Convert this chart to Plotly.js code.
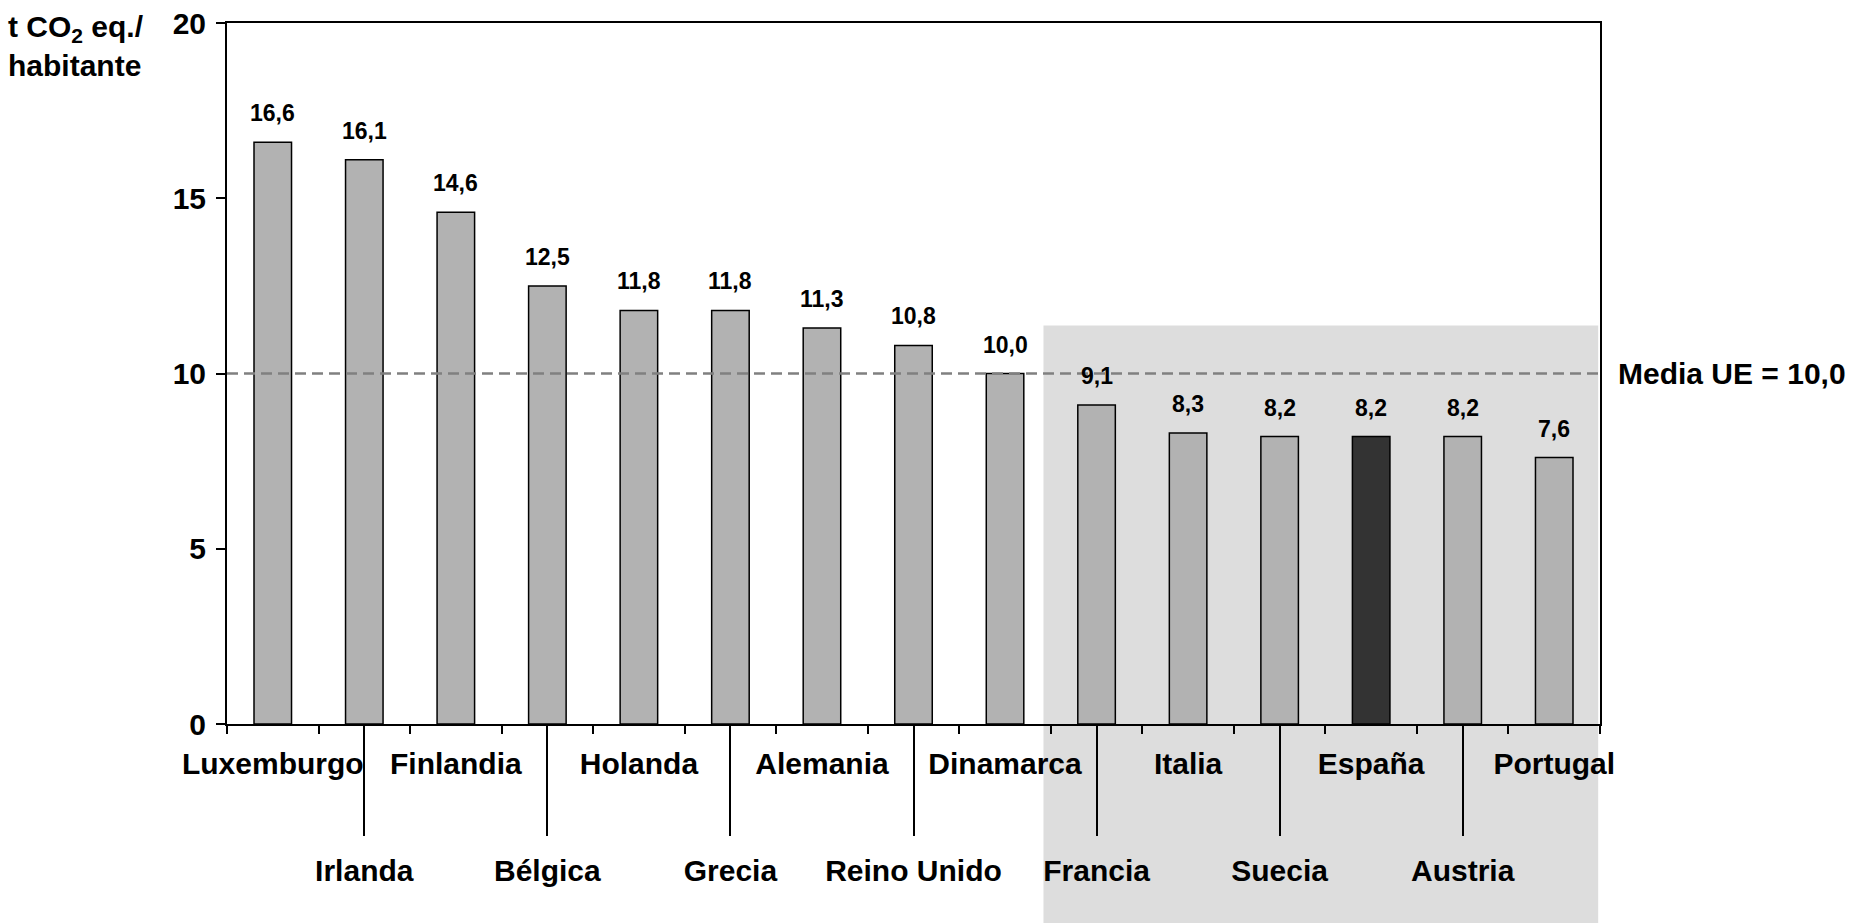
<!DOCTYPE html>
<html lang="es">
<head>
<meta charset="utf-8">
<script src="https://cdn.plot.ly/plotly-3.0.1.min.js"></script>
<style>
  html, body { margin: 0; padding: 0; background: #ffffff; }
  #chart { width: 1852px; height: 923px; }
</style>
</head>
<body>
<div id="chart"></div>
<script>
// Emisiones de GEI por habitante en la UE-15
const countries = ['Luxemburgo', 'Irlanda', 'Finlandia', 'Bélgica', 'Holanda', 'Grecia', 'Alemania',
  'Reino Unido', 'Dinamarca', 'Francia', 'Italia', 'Suecia', 'España', 'Austria', 'Portugal'];
const values = [16.6, 16.1, 14.6, 12.5, 11.8, 11.8, 11.3, 10.8, 10.0, 9.1, 8.3, 8.2, 8.2, 8.2, 7.6];
const euAverage = 10.0;
const highlighted = 'España';
const yTickValues = [0, 5, 10, 15, 20];
const yAxisTitle = 't CO<sub>2</sub> eq./<br>habitante';
const averageLabel = 'Media UE = ';

const FONT = '"Liberation Sans", Arial, Helvetica, sans-serif';
const fmt = v => v.toFixed(1).replace('.', ',');

// Upper row of category labels on the main axis, lower row on a second axis with long ticks
const upperText = countries.map((c, i) => (i % 2 === 0 ? c : ''));
const lowerIdx = countries.map((c, i) => i).filter(i => i % 2 === 1);
const lowerText = lowerIdx.map(i => countries[i]);

const bars = {
  type: 'bar',
  x: countries,
  y: values,
  marker: {
    color: countries.map(c => (c === highlighted ? '#333333' : '#b2b2b2')),
    line: { color: '#000000', width: 1.5 }
  },
  hoverinfo: 'x+y',
  showlegend: false
};

// carrier trace so the second (lower-row) category axis gets drawn
const lowerRow = {
  type: 'scatter',
  mode: 'none',
  x: lowerIdx,
  y: lowerIdx.map(i => values[i]),
  xaxis: 'x2',
  yaxis: 'y',
  hoverinfo: 'skip',
  showlegend: false
};

const valueLabels = countries.map((c, i) => ({
  x: c, y: values[i], xref: 'x', yref: 'y',
  text: fmt(values[i]),
  showarrow: false, yanchor: 'middle', yshift: 29,
  font: { family: FONT, size: 23, color: '#000000', weight: 'bold' }
}));

const layout = {
  width: 1852,
  height: 923,
  margin: { l: 227, r: 252, t: 23, b: 199, pad: 0 },
  paper_bgcolor: '#ffffff',
  plot_bgcolor: 'rgba(0,0,0,0)',
  font: { family: FONT, size: 30, color: '#000000', weight: 'bold' },
  separators: ',.',
  bargap: 0.59,
  showlegend: false,
  xaxis: {
    type: 'category',
    categoryorder: 'array',
    categoryarray: countries,
    range: [-0.5, countries.length - 0.5],
    tickmode: 'array',
    tickvals: countries,
    ticktext: upperText,
    tickson: 'boundaries',
    tickangle: 0,
    ticks: 'outside', ticklen: 8, tickwidth: 2, tickcolor: '#000000',
    ticklabelstandoff: 12,
    showline: true, linewidth: 2, linecolor: '#000000', mirror: true,
    showgrid: false, zeroline: false,
    tickfont: { family: FONT, size: 30, color: '#000000', weight: 'bold' },
    fixedrange: true
  },
  xaxis2: {
    type: 'linear',
    overlaying: 'x',
    anchor: 'y',
    side: 'bottom',
    range: [-0.5, countries.length - 0.5],
    tickmode: 'array',
    tickvals: lowerIdx,
    ticktext: lowerText,
    tickangle: 0,
    ticks: 'outside', ticklen: 111, tickwidth: 2, tickcolor: '#000000',
    ticklabelstandoff: 9,
    showline: false, showgrid: false, zeroline: false,
    tickfont: { family: FONT, size: 30, color: '#000000', weight: 'bold' },
    fixedrange: true
  },
  yaxis: {
    range: [0, 20],
    tickmode: 'array',
    tickvals: yTickValues,
    ticks: 'outside', ticklen: 9, tickwidth: 2, tickcolor: '#000000',
    ticklabelstandoff: 4,
    showline: true, linewidth: 2, linecolor: '#000000', mirror: true,
    showgrid: false, zeroline: false,
    tickfont: { family: FONT, size: 30, color: '#000000', weight: 'bold' },
    fixedrange: true
  },
  shapes: [
    // grey band behind the countries under the EU average
    {
      type: 'rect', layer: 'below',
      xref: 'x', yref: 'paper',
      x0: 8.42, x1: 14.48, y0: -0.35, y1: 11.37 / 20,
      fillcolor: '#dddddd', line: { width: 0 }
    },
    // EU average line
    {
      type: 'line', layer: 'above',
      xref: 'paper', yref: 'y',
      x0: 0, x1: 1, y0: euAverage, y1: euAverage,
      line: { color: '#808080', width: 2.5, dash: '11px,6px' }
    }
  ],
  annotations: valueLabels.concat([
    {
      xref: 'paper', yref: 'y', x: 1.0117, y: euAverage,
      xanchor: 'left', yanchor: 'middle',
      text: averageLabel + fmt(euAverage),
      showarrow: false,
      font: { family: FONT, size: 30, color: '#000000', weight: 'bold' }
    },
    {
      xref: 'paper', yref: 'paper', x: -0.161, y: 1.022,
      xanchor: 'left', yanchor: 'top', align: 'left',
      text: yAxisTitle,
      showarrow: false,
      font: { family: FONT, size: 30, color: '#000000', weight: 'bold' }
    }
  ])
};

Plotly.newPlot('chart', [bars, lowerRow], layout, { staticPlot: true, displayModeBar: false });
</script>
</body>
</html>
